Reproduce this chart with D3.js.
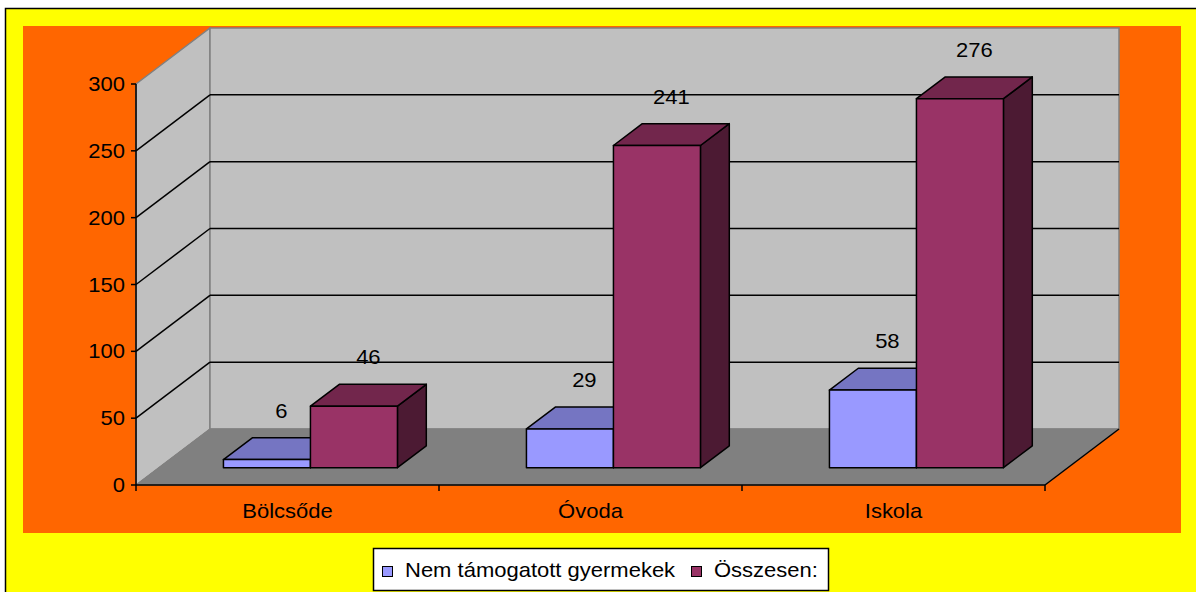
<!DOCTYPE html>
<html>
<head>
<meta charset="utf-8">
<script src="https://cdn.jsdelivr.net/npm/d3@7"></script>
<style>
  body { margin: 0; background: #ffffff; }
  text { font-family: "Liberation Sans", Arial, sans-serif; font-size: 20px; fill: #000; }
</style>
</head>
<body>
<script>
const categories = ["Bölcsőde", "Óvoda", "Iskola"];
const seriesNames = ["Nem támogatott gyermekek", "Összesen:"];
const notSupported = [6, 29, 58];
const totals = [46, 241, 276];
const yTicks = [0, 50, 100, 150, 200, 250, 300];

const seriesValues = [notSupported, totals];
const seriesColors = [
    { front: "#9999ff", top: "#7575c2", side: "#4d4d80" },
    { front: "#993366", top: "#72264c", side: "#4c1a33" },
];

const width = 1196;
const height = 592;

const svg = d3.select("body")
    .append("svg")
    .attr("width", width)
    .attr("height", height);

// chart frame + plot area
svg.append("rect")
    .attr("x", 5.5).attr("y", 8.5)
    .attr("width", width + 10).attr("height", height + 10)
    .attr("fill", "#ffff00")
    .attr("stroke", "#000")
    .attr("stroke-width", 1.5);

svg.append("rect")
    .attr("x", 23).attr("y", 26)
    .attr("width", 1158).attr("height", 507)
    .attr("fill", "#ff6600");

const plotLeft = 136;
const plotRight = 1045;
const floorY = 485;
const depth = { x: 74, y: -56 };

const x0 = d3.scaleBand().domain(categories).range([plotLeft, plotRight]);
const y = d3.scaleLinear().domain([0, 300]).range([floorY, 84]);
const barW = 87;
const x1 = d3.scaleBand().domain(seriesNames).range([-barW, barW]);

// bars sit between 31% and 70% of the depth
const barFront = { x: depth.x * 0.31, y: depth.y * 0.31 };
const barDepth = { x: depth.x * 0.39, y: depth.y * 0.39 };

function addText(parent, x, yy, str, anchor) {
    return parent.append("text")
        .attr("transform", `translate(${x},${yy}) scale(1.1,1)`)
        .attr("text-anchor", anchor)
        .text(str);
}

const pts = (arr) => arr.map((p) => p.join(",")).join(" ");

// walls and floor
const yMax = y(300);
svg.append("polygon")
    .attr("points", pts([[plotLeft, floorY], [plotLeft, yMax], [plotLeft + depth.x, yMax + depth.y], [plotLeft + depth.x, floorY + depth.y]]))
    .attr("fill", "#c0c0c0")
    .attr("stroke", "#808080")
    .attr("stroke-width", 1.5);

svg.append("rect")
    .attr("x", plotLeft + depth.x).attr("y", yMax + depth.y)
    .attr("width", plotRight - plotLeft).attr("height", floorY - yMax)
    .attr("fill", "#c0c0c0")
    .attr("stroke", "#808080")
    .attr("stroke-width", 1.5);

svg.append("polygon")
    .attr("points", pts([[plotLeft, floorY], [plotRight, floorY], [plotRight + depth.x, floorY + depth.y], [plotLeft + depth.x, floorY + depth.y]]))
    .attr("fill", "#808080")
    .attr("stroke", "#808080");

svg.append("line")
    .attr("x1", plotRight).attr("y1", floorY)
    .attr("x2", plotRight + depth.x).attr("y2", floorY + depth.y)
    .attr("stroke", "#000").attr("stroke-width", 1.5);

// gridlines
const grid = yTicks.filter((d) => d > 0 && d < 300);
svg.selectAll(".grid-side")
    .data(grid)
    .enter().append("line")
    .attr("x1", plotLeft).attr("y1", (d) => y(d))
    .attr("x2", plotLeft + depth.x).attr("y2", (d) => y(d) + depth.y)
    .attr("stroke", "#000").attr("stroke-width", 1.5);

svg.selectAll(".grid-back")
    .data(grid)
    .enter().append("line")
    .attr("x1", plotLeft + depth.x).attr("y1", (d) => y(d) + depth.y)
    .attr("x2", plotRight + depth.x).attr("y2", (d) => y(d) + depth.y)
    .attr("stroke", "#000").attr("stroke-width", 1.5);

// axes
svg.append("line")
    .attr("x1", plotLeft).attr("y1", y(300))
    .attr("x2", plotLeft).attr("y2", floorY)
    .attr("stroke", "#000").attr("stroke-width", 1.5);

svg.selectAll(".ytick")
    .data(yTicks)
    .enter().append("line")
    .attr("x1", plotLeft - 5).attr("x2", plotLeft)
    .attr("y1", (d) => y(d)).attr("y2", (d) => y(d))
    .attr("stroke", "#000").attr("stroke-width", 1.5);

yTicks.forEach((d) => addText(svg, plotLeft - 11, y(d) + 7, d, "end"));

svg.append("line")
    .attr("x1", plotLeft).attr("y1", floorY)
    .attr("x2", plotRight).attr("y2", floorY)
    .attr("stroke", "#000").attr("stroke-width", 1.5);

const catEdges = categories.map((c) => x0(c)).concat([plotRight]);
svg.selectAll(".xtick")
    .data(catEdges)
    .enter().append("line")
    .attr("x1", (d) => d).attr("x2", (d) => d)
    .attr("y1", floorY).attr("y2", floorY + 6)
    .attr("stroke", "#000").attr("stroke-width", 1.5);

categories.forEach((c) => addText(svg, x0(c) + x0.bandwidth() / 2, floorY + 33, c, "middle"));

// 3d bars
const bars = svg.append("g");
categories.forEach((c, ci) => {
    seriesNames.forEach((s, si) => {
        const v = seriesValues[si][ci];
        const col = seriesColors[si];
        const xl = x0(c) + x0.bandwidth() / 2 + x1(s) + barFront.x;
        const xr = xl + x1.bandwidth();
        const yb = floorY + barFront.y;
        const yt = y(v) + barFront.y;
        const g = bars.append("g")
            .attr("stroke", "#000")
            .attr("stroke-width", 1.5)
            .attr("stroke-linejoin", "round");
        g.append("polygon")
            .attr("points", pts([[xr, yb], [xr, yt], [xr + barDepth.x, yt + barDepth.y], [xr + barDepth.x, yb + barDepth.y]]))
            .attr("fill", col.side);
        g.append("polygon")
            .attr("points", pts([[xl, yt], [xr, yt], [xr + barDepth.x, yt + barDepth.y], [xl + barDepth.x, yt + barDepth.y]]))
            .attr("fill", col.top);
        g.append("rect")
            .attr("x", xl).attr("y", yt)
            .attr("width", xr - xl).attr("height", yb - yt)
            .attr("fill", col.front);
    });
});

// value labels
categories.forEach((c, ci) => {
    seriesNames.forEach((s, si) => {
        const v = seriesValues[si][ci];
        const cx = x0(c) + x0.bandwidth() / 2 + x1(s) + x1.bandwidth() / 2 + barFront.x + barDepth.x / 2;
        addText(svg, cx, y(v) + barFront.y - 42, v, "middle");
    });
});

// legend
const legend = svg.append("g").attr("transform", "translate(373,548)");
legend.append("rect")
    .attr("x", 0.5).attr("y", 0.5)
    .attr("width", 455).attr("height", 42)
    .attr("fill", "#fff")
    .attr("stroke", "#000")
    .attr("stroke-width", 1.5);

const legendX = [9, 318];
seriesNames.forEach((s, i) => {
    legend.append("rect")
        .attr("x", legendX[i] + 0.5).attr("y", 18.5)
        .attr("width", 10).attr("height", 10)
        .attr("fill", seriesColors[i].front)
        .attr("stroke", "#000")
        .attr("stroke-width", 1);
    addText(legend, legendX[i] + 23, 29, s, "start");
});
</script>
</body>
</html>
